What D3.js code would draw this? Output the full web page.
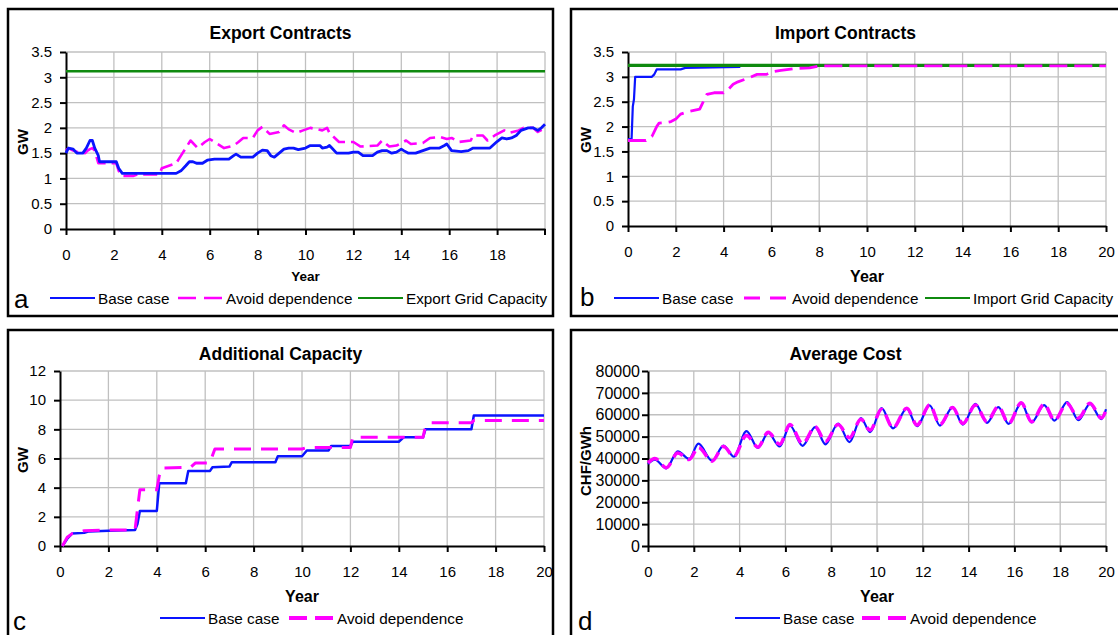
<!DOCTYPE html>
<html>
<head>
<meta charset="utf-8">
<script src="https://cdn.jsdelivr.net/npm/d3@7"></script>
<style>
  body { margin: 0; background: #fff; }
  svg { display: block; font-family: "Liberation Sans", Arial, sans-serif; }
  .grid line { stroke: #c0c0c0; stroke-width: 1.3; }
</style>
</head>
<body>
<div id="chart"></div>
<script>
// data: [year, value]
const exportBase = [[0,1.5],[0.1,1.6],[0.3,1.58],[0.45,1.5],[0.7,1.5],[0.85,1.6],[1.0,1.75],[1.1,1.75],[1.2,1.6],[1.35,1.45],[1.4,1.33],[2.1,1.33],[2.2,1.2],[2.35,1.1],[4.6,1.1],[4.8,1.15],[5.0,1.25],[5.15,1.33],[5.3,1.33],[5.45,1.3],[5.7,1.3],[5.9,1.36],[6.2,1.38],[6.8,1.38],[7.0,1.45],[7.1,1.48],[7.3,1.42],[7.8,1.42],[8.0,1.5],[8.2,1.56],[8.4,1.55],[8.55,1.45],[8.7,1.42],[8.9,1.5],[9.1,1.58],[9.3,1.6],[9.5,1.6],[9.7,1.57],[10.0,1.6],[10.2,1.65],[10.6,1.65],[10.7,1.6],[10.9,1.62],[11.0,1.65],[11.1,1.6],[11.3,1.5],[11.8,1.5],[12.0,1.52],[12.2,1.52],[12.4,1.45],[12.8,1.45],[13.0,1.52],[13.2,1.55],[13.4,1.55],[13.6,1.5],[13.8,1.52],[14.0,1.58],[14.1,1.55],[14.3,1.5],[14.6,1.5],[14.9,1.55],[15.2,1.6],[15.6,1.6],[15.8,1.65],[15.9,1.68],[16.1,1.55],[16.5,1.53],[16.8,1.55],[17.0,1.6],[17.7,1.6],[18.0,1.73],[18.2,1.8],[18.4,1.78],[18.6,1.8],[18.8,1.85],[19.0,1.95],[19.3,2.0],[19.5,2.0],[19.7,1.95],[19.85,2.0],[20,2.07]];
const exportAvoid = [[0,1.55],[0.1,1.6],[0.3,1.55],[0.5,1.52],[0.8,1.5],[0.9,1.55],[1.0,1.58],[1.1,1.6],[1.2,1.55],[1.35,1.3],[2.1,1.3],[2.2,1.15],[2.35,1.05],[2.8,1.05],[3.0,1.08],[3.9,1.08],[4.0,1.2],[4.6,1.3],[4.8,1.45],[5.0,1.6],[5.2,1.75],[5.5,1.6],[5.8,1.72],[6.0,1.78],[6.2,1.72],[6.6,1.6],[7.0,1.65],[7.2,1.72],[7.4,1.8],[7.8,1.8],[8.0,1.95],[8.2,2.02],[8.5,1.88],[8.9,1.92],[9.1,2.05],[9.3,1.97],[9.6,1.9],[9.9,1.95],[10.2,2.0],[10.7,1.95],[10.9,2.0],[11.0,1.9],[11.4,1.72],[12.0,1.72],[12.3,1.63],[13.0,1.65],[13.2,1.75],[13.5,1.63],[13.8,1.65],[14.2,1.75],[14.4,1.68],[14.9,1.7],[15.2,1.8],[15.6,1.82],[15.9,1.78],[16.1,1.8],[16.4,1.72],[16.9,1.75],[17.0,1.85],[17.4,1.85],[17.6,1.75],[17.9,1.85],[18.1,1.9],[18.3,1.95],[18.5,1.9],[18.9,1.95],[19.1,2.0],[19.5,2.0],[19.7,1.92],[19.9,1.97],[20,2.02]];
const exportGrid = [[0,3.12],[20,3.12]];

const importBase = [[0,1.75],[0.15,1.75],[0.2,2.4],[0.25,2.55],[0.3,3.0],[1.0,3.0],[1.1,3.05],[1.2,3.15],[2.2,3.15],[2.4,3.18],[4.7,3.2]];
const importAvoid = [[0,1.72],[0.75,1.72],[1.0,1.8],[1.2,2.0],[1.3,2.07],[1.6,2.08],[1.8,2.1],[2.0,2.15],[2.2,2.25],[2.5,2.3],[3.0,2.35],[3.1,2.45],[3.3,2.65],[3.6,2.68],[4.0,2.68],[4.2,2.75],[4.4,2.85],[4.6,2.9],[5.0,2.97],[5.4,3.05],[5.8,3.05],[6.0,3.1],[6.4,3.13],[7.0,3.17],[7.6,3.18],[8.0,3.22],[20,3.22]];
const importGrid = [[0,3.23],[20,3.23]];

const capacityBase = [[0.1,0],[0.3,0.5],[0.5,0.85],[1.0,0.9],[1.2,1.0],[2.0,1.05],[3.1,1.1],[3.2,1.5],[3.3,2.4],[4.0,2.4],[4.1,4.3],[5.2,4.3],[5.3,5.15],[6.2,5.15],[6.3,5.4],[7.0,5.45],[7.1,5.75],[8.9,5.75],[9.0,6.15],[10.0,6.15],[10.2,6.55],[11.1,6.55],[11.2,6.85],[12.0,6.85],[12.1,7.15],[14.0,7.15],[14.2,7.45],[15.0,7.45],[15.1,8.0],[17.0,8.0],[17.1,8.95],[20,8.95]];
const capacityAvoid = [[0.1,0],[0.3,0.6],[0.5,0.85],[0.8,0.95],[1.0,1.05],[2.0,1.1],[3.1,1.1],[3.2,2.5],[3.3,3.85],[4.0,3.85],[4.1,4.8],[4.2,5.35],[5.4,5.4],[5.6,5.7],[6.2,5.7],[6.3,6.2],[6.4,6.65],[10.0,6.65],[10.2,6.75],[12.0,6.75],[12.1,7.45],[15.0,7.45],[15.1,8.2],[15.3,8.45],[17.0,8.45],[17.1,8.6],[20,8.6]];

const costBase = [[0,37500],[0.3,39500],[0.8,35500],[1.3,43300],[1.8,39800],[2.2,46800],[2.8,39000],[3.3,45900],[3.75,40800],[4.3,52500],[4.8,44800],[5.25,51700],[5.75,45500],[6.2,55000],[6.75,45800],[7.3,54300],[7.75,46500],[8.3,56000],[8.8,47500],[9.3,58500],[9.7,52000],[10.2,63000],[10.7,53800],[11.3,62800],[11.75,54800],[12.3,64300],[12.75,55000],[13.3,63500],[13.75,55500],[14.3,65000],[14.8,56300],[15.3,63500],[15.75,55800],[16.3,65300],[16.75,56500],[17.3,64400],[17.75,57300],[18.3,65800],[18.8,57500],[19.3,65000],[19.8,58000],[20,62500]];
const costAvoid = [[0,38000],[0.3,40000],[0.8,35800],[1.3,42500],[1.8,39500],[2.2,45000],[2.8,38800],[3.3,45500],[3.75,41000],[4.3,50500],[4.8,45200],[5.25,52000],[5.75,46500],[6.2,55500],[6.75,46800],[7.3,54500],[7.75,47800],[8.3,55500],[8.8,49500],[9.3,58000],[9.7,53000],[10.2,62500],[10.7,54000],[11.3,63000],[11.75,55300],[12.3,64500],[12.75,55500],[13.3,63300],[13.75,56000],[14.3,64500],[14.8,56800],[15.3,63800],[15.75,56000],[16.3,65500],[16.75,56800],[17.3,64800],[17.75,57500],[18.3,65200],[18.8,58500],[19.3,65300],[19.8,58500],[20,62000]];

const yearTicksA = [0,2,4,6,8,10,12,14,16,18];
const yearTicks = [0,2,4,6,8,10,12,14,16,18,20];
const gwTicks = [0,0.5,1,1.5,2,2.5,3,3.5];
const capTicks = [0,2,4,6,8,10,12];
const costTicks = [0,10000,20000,30000,40000,50000,60000,70000,80000];

const BLUE = '#0a14ff', PINK = '#ff00ff', GREEN = '#0f8a0f';

const svg = d3.select('#chart').append('svg')
    .attr('width', 1118).attr('height', 635);

function panel(p){
    const g = svg.append('g');
    // frame
    g.append('rect')
        .attr('x', p.box[0]).attr('y', p.box[1])
        .attr('width', p.box[2]-p.box[0]).attr('height', p.box[3]-p.box[1])
        .attr('fill', '#fff').attr('stroke', '#000').attr('stroke-width', 2.5);

    const x = d3.scaleLinear().domain([0,20]).range(p.xr);
    const y = d3.scaleLinear().domain(p.yd).range(p.yr);

    // grid
    const grid = g.append('g').attr('class', 'grid');
    grid.selectAll('line.h').data(p.yTicks.filter(d => d > p.yd[0])).join('line')
        .attr('x1', p.xr[0]).attr('x2', p.xr[1])
        .attr('y1', d => y(d)).attr('y2', d => y(d));
    grid.selectAll('line.v').data(yearTicks.filter(d => d > 0)).join('line')
        .attr('x1', d => x(d)).attr('x2', d => x(d))
        .attr('y1', p.yr[0]).attr('y2', p.yr[1]);

    // axes
    const xAxis = g.append('g').attr('transform', `translate(0,${p.yr[0]})`)
        .call(d3.axisBottom(x).tickValues(p.xTicks).tickSize(6).tickSizeOuter(0).tickPadding(14));
    const yAxis = g.append('g').attr('transform', `translate(${p.xr[0]},0)`)
        .call(d3.axisLeft(y).tickValues(p.yTicks).tickSize(6).tickSizeOuter(0)
            .tickPadding(p.yPad).tickFormat(d => String(d)));
    [xAxis, yAxis].forEach(a => {
        a.select('.domain').attr('stroke', '#000').attr('stroke-width', 2);
        a.selectAll('.tick line').attr('stroke', '#000').attr('stroke-width', 2);
        a.selectAll('text').attr('fill', '#000').attr('font-size', 15)
            .attr('font-family', '"Liberation Sans", Arial, sans-serif');
    });
    if (p.yFont) yAxis.selectAll('text').attr('font-size', p.yFont);
    // x ticks at the 20 mark on chart a (no label there)
    if (p.xTicks.length < yearTicks.length){
        g.append('line').attr('x1', x(20)).attr('x2', x(20))
            .attr('y1', p.yr[0]).attr('y2', p.yr[0]+6)
            .attr('stroke', '#000').attr('stroke-width', 2);
    }

    // series
    const line = d3.line().x(d => x(d[0])).y(d => y(d[1])).curve(p.curve || d3.curveLinear);
    p.series.forEach(s => {
        g.append('path').datum(s.data)
            .attr('d', line)
            .attr('fill', 'none')
            .attr('stroke', s.color)
            .attr('stroke-width', s.width)
            .attr('stroke-dasharray', s.dash || null)
            .attr('stroke-linejoin', 'round');
    });

    // text
    const cx = (p.box[0]+p.box[2])/2;
    g.append('text').attr('x', cx).attr('y', p.box[1]+30)
        .attr('text-anchor', 'middle').attr('font-weight', 'bold').attr('font-size', 17.5)
        .text(p.title);
    g.append('text').attr('x', (p.xr[0]+p.xr[1])/2).attr('y', p.yr[0]+p.yearDy)
        .attr('text-anchor', 'middle').attr('font-weight', 'bold').attr('font-size', p.yearSize)
        .text('Year');
    g.append('text')
        .attr('transform', `translate(${p.yLabel[0]},${p.yLabel[1]}) rotate(-90)`)
        .attr('text-anchor', 'middle').attr('dominant-baseline', 'central')
        .attr('font-weight', 'bold').attr('font-size', p.yLabelSize)
        .text(p.yTitle);
    g.append('text').attr('x', p.letter[0]).attr('y', p.letter[1])
        .attr('font-size', 26).text(p.letterText);

    // legend
    const lg = g.append('g').attr('transform', `translate(0,${p.legendY})`);
    p.legend.forEach(it => {
        const s = p.series.find(d => d.name === it.name);
        lg.append('line').attr('x1', it.x).attr('x2', it.x + 45)
            .attr('stroke', s.color).attr('stroke-width', it.width || s.width)
            .attr('stroke-dasharray', it.dash || null);
        lg.append('text').attr('x', it.x + 48).attr('y', 6)
            .attr('font-size', 15.3).text(it.name);
    });
}

panel({
    box: [8, 9, 553, 316], xr: [66, 545], yr: [229, 52], yd: [0, 3.5],
    xTicks: yearTicksA, yTicks: gwTicks, yPad: 8,
    title: 'Export Contracts', yTitle: 'GW', yLabel: [22, 142], yLabelSize: 15,
    yearDy: 52, yearSize: 13.5, letter: [14, 308], letterText: 'a', legendY: 298,
    series: [
        {name: 'Avoid dependence', data: exportAvoid, color: PINK, width: 2.6, dash: '14 6'},
        {name: 'Base case', data: exportBase, color: BLUE, width: 2.8},
        {name: 'Export Grid Capacity', data: exportGrid, color: GREEN, width: 2.5}
    ],
    legend: [
        {name: 'Base case', x: 50, width: 2},
        {name: 'Avoid dependence', x: 178, dash: '18 8'},
        {name: 'Export Grid Capacity', x: 358, width: 2}
    ]
});

panel({
    box: [571, 9, 1120, 316], xr: [628, 1106], yr: [226, 52], yd: [0, 3.5],
    xTicks: yearTicks, yTicks: gwTicks, yPad: 8,
    title: 'Import Contracts', yTitle: 'GW', yLabel: [585, 140], yLabelSize: 15,
    yearDy: 56, yearSize: 16, letter: [580, 306], letterText: 'b', legendY: 298,
    series: [
        {name: 'Base case', data: importBase, color: BLUE, width: 2.2},
        {name: 'Import Grid Capacity', data: importGrid, color: GREEN, width: 3.2},
        {name: 'Avoid dependence', data: importAvoid, color: PINK, width: 2.8, dash: '18 7'}
    ],
    legend: [
        {name: 'Base case', x: 614},
        {name: 'Avoid dependence', x: 744, dash: '16 10'},
        {name: 'Import Grid Capacity', x: 925, width: 2}
    ]
});

panel({
    box: [8, 330, 553, 650], xr: [60, 544], yr: [546, 371], yd: [0, 12],
    xTicks: yearTicks, yTicks: capTicks, yPad: 8,
    title: 'Additional Capacity', yTitle: 'GW', yLabel: [22, 460], yLabelSize: 15,
    yearDy: 56, yearSize: 16, letter: [13, 630], letterText: 'c', legendY: 618,
    series: [
        {name: 'Base case', data: capacityBase, color: BLUE, width: 2.5},
        {name: 'Avoid dependence', data: capacityAvoid, color: PINK, width: 3, dash: '17 10'}
    ],
    legend: [
        {name: 'Base case', x: 160, width: 2},
        {name: 'Avoid dependence', x: 289, width: 4, dash: '18 8'}
    ]
});

panel({
    box: [571, 330, 1120, 650], xr: [648, 1106], yr: [546, 371], yd: [0, 80000],
    xTicks: yearTicks, yTicks: costTicks, yPad: 2, yFont: 16,
    title: 'Average Cost', yTitle: 'CHF/GWh', yLabel: [585, 461], yLabelSize: 15,
    yearDy: 56, yearSize: 16, letter: [578, 630], letterText: 'd', legendY: 618,
    curve: d3.curveMonotoneX,
    series: [
        {name: 'Base case', data: costBase, color: BLUE, width: 2.2},
        {name: 'Avoid dependence', data: costAvoid, color: PINK, width: 3.5, dash: '12 6'}
    ],
    legend: [
        {name: 'Base case', x: 735, width: 2},
        {name: 'Avoid dependence', x: 862, width: 4, dash: '18 8'}
    ]
});
</script>
</body>
</html>
